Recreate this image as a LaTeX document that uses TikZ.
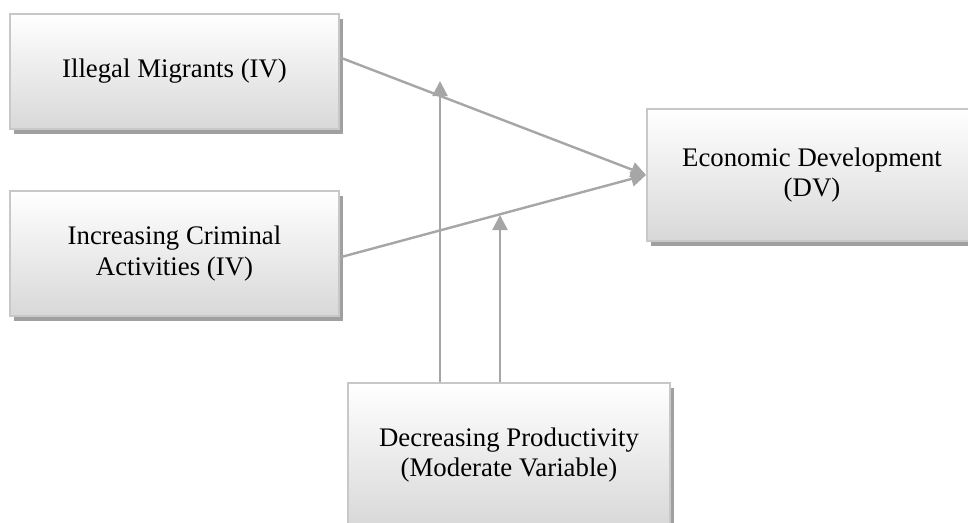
\documentclass[tikz,border=0pt]{standalone}
\usepackage{fontspec}
\setmainfont{Liberation Serif}
\usetikzlibrary{shadows,arrows.meta,calc}
\definecolor{lncol}{HTML}{A6A6A6}
\definecolor{bordcol}{HTML}{C8C8C8}
\definecolor{shcol}{HTML}{A0A0A0}
\definecolor{botcol}{HTML}{D8D8D8}
\begin{document}
\begin{tikzpicture}[x=1pt,y=-1pt,
  box/.style={rectangle, draw=bordcol, line width=2pt, top color=white, bottom color=botcol,
    drop shadow={shadow xshift=3.5pt, shadow yshift=-5pt, fill=shcol, opacity=1},
    align=center, font=\fontsize{26.8}{30.5}\selectfont, inner sep=0pt},
  arr/.style={draw=lncol, line width=2.4pt, -{Triangle[length=15pt,width=15pt]}}]
\useasboundingbox (0,0) rectangle (968,522);
\node[box, minimum width=329pt, minimum height=115pt] (b1) at (174.5,71.5) {Illegal Migrants (IV)};
\node[box, minimum width=329pt, minimum height=125pt] (b2) at (174.5,253.5) {Increasing Criminal\\Activities (IV)};
\node[box, minimum width=330pt, minimum height=132pt] (b3) at (812,175) {Economic Development\\(DV)};
\node[box, minimum width=322pt, minimum height=144pt] (b4) at (509,455) {Decreasing Productivity\\(Moderate Variable)};
\coordinate (s1) at ($(b1.north east)!0.38!(b1.south east)$);
\coordinate (s2) at ($(b2.north east)!0.53!(b2.south east)$);
\coordinate (t1) at (440,81);
\coordinate (t2) at (500,215);
\draw[arr] (s1) -- (b3.west);
\draw[arr] (s2) -- (b3.west);
\draw[arr] (b4.north -| t1) -- (t1);
\draw[arr] (b4.north -| t2) -- (t2);
\end{tikzpicture}
\end{document}
